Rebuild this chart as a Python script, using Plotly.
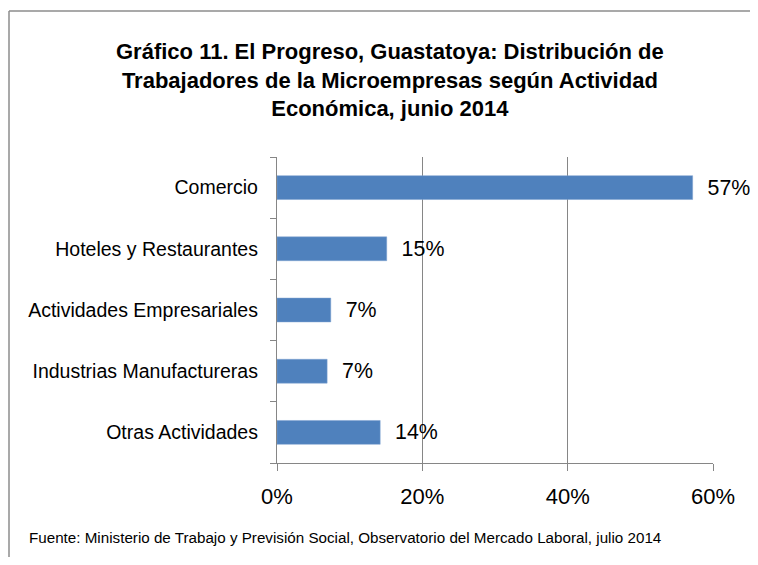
import plotly.graph_objects as go

# data
categorias = [
    "Otras Actividades",
    "Industrias Manufactureras",
    "Actividades Empresariales",
    "Hoteles y Restaurantes",
    "Comercio",
]
porcentajes = [0.142, 0.069, 0.074, 0.151, 0.572]
ticks_x = [0, 0.2, 0.4, 0.6]

TITULO = ("Gráfico 11. El Progreso, Guastatoya: Distribución de<br>"
          "Trabajadores de la Microempresas según Actividad<br>"
          "Económica, junio 2014")
FUENTE = ("Fuente: Ministerio de Trabajo y Previsión Social, "
          "Observatorio del Mercado Laboral, julio 2014")

FONT = "Liberation Sans, Arial, sans-serif"
GRID = "#868686"

# page body adds an 8px margin on every side, so keep the figure inside it
W, H = 742, 549
L, R, T, B = 269, 37, 149, 94
pw, ph = W - L - R, H - T - B


def px_x(x):
    return (x - L) / pw


def px_y(y):
    return 1 - (y - T) / ph


fig = go.Figure()
fig.add_bar(
    y=categorias,
    x=porcentajes,
    orientation="h",
    marker=dict(color="#4F81BD", line=dict(color="#7FA3D1", width=0.5)),
    texttemplate="\u00a0\u00a0%{x:.0%}",
    textposition="outside",
    textfont=dict(family=FONT, size=21.5, color="black"),
    cliponaxis=False,
    hoverinfo="skip",
)

fig.update_layout(
    width=W,
    height=H,
    paper_bgcolor="white",
    plot_bgcolor="white",
    showlegend=False,
    bargap=0.61,
    margin=dict(l=L, r=R, t=T, b=B),
    xaxis=dict(
        range=[0, 0.6],
        tickvals=ticks_x,
        tickformat=".0%",
        showgrid=True,
        gridcolor=GRID,
        gridwidth=1.3,
        zeroline=False,
        showline=True,
        linecolor=GRID,
        linewidth=1.3,
        ticks="outside",
        ticklen=7,
        tickcolor=GRID,
        tickwidth=1.3,
        ticklabelstandoff=6,
        tickfont=dict(family=FONT, size=22, color="black"),
    ),
    yaxis=dict(
        showline=True,
        linecolor=GRID,
        linewidth=1.3,
        ticks="outside",
        tickson="boundaries",
        ticklen=6,
        tickcolor=GRID,
        tickwidth=1.3,
        ticklabelstandoff=14,
        showgrid=False,
        tickfont=dict(family=FONT, size=19.5, color="black"),
    ),
    shapes=[
        dict(type="line", xref="paper", yref="paper",
             x0=px_x(1), x1=px_x(W), y0=px_y(3), y1=px_y(3),
             line=dict(color="#8c8c8c", width=1.5)),
        dict(type="line", xref="paper", yref="paper",
             x0=px_x(1), x1=px_x(1), y0=px_y(3), y1=px_y(H),
             line=dict(color="#8c8c8c", width=1.5)),
    ],
    annotations=[
        dict(
            text=TITULO,
            xref="paper", yref="paper",
            x=px_x(382), y=px_y(72),
            xanchor="center", yanchor="middle",
            showarrow=False,
            font=dict(family=FONT, size=22, color="black", weight="bold"),
        ),
        dict(
            text=FUENTE,
            xref="paper", yref="paper",
            x=px_x(19), y=px_y(529),
            xanchor="left", yanchor="middle",
            showarrow=False,
            font=dict(family=FONT, size=15.2, color="black"),
        ),
    ],
)

fig.write_html("out.html")
